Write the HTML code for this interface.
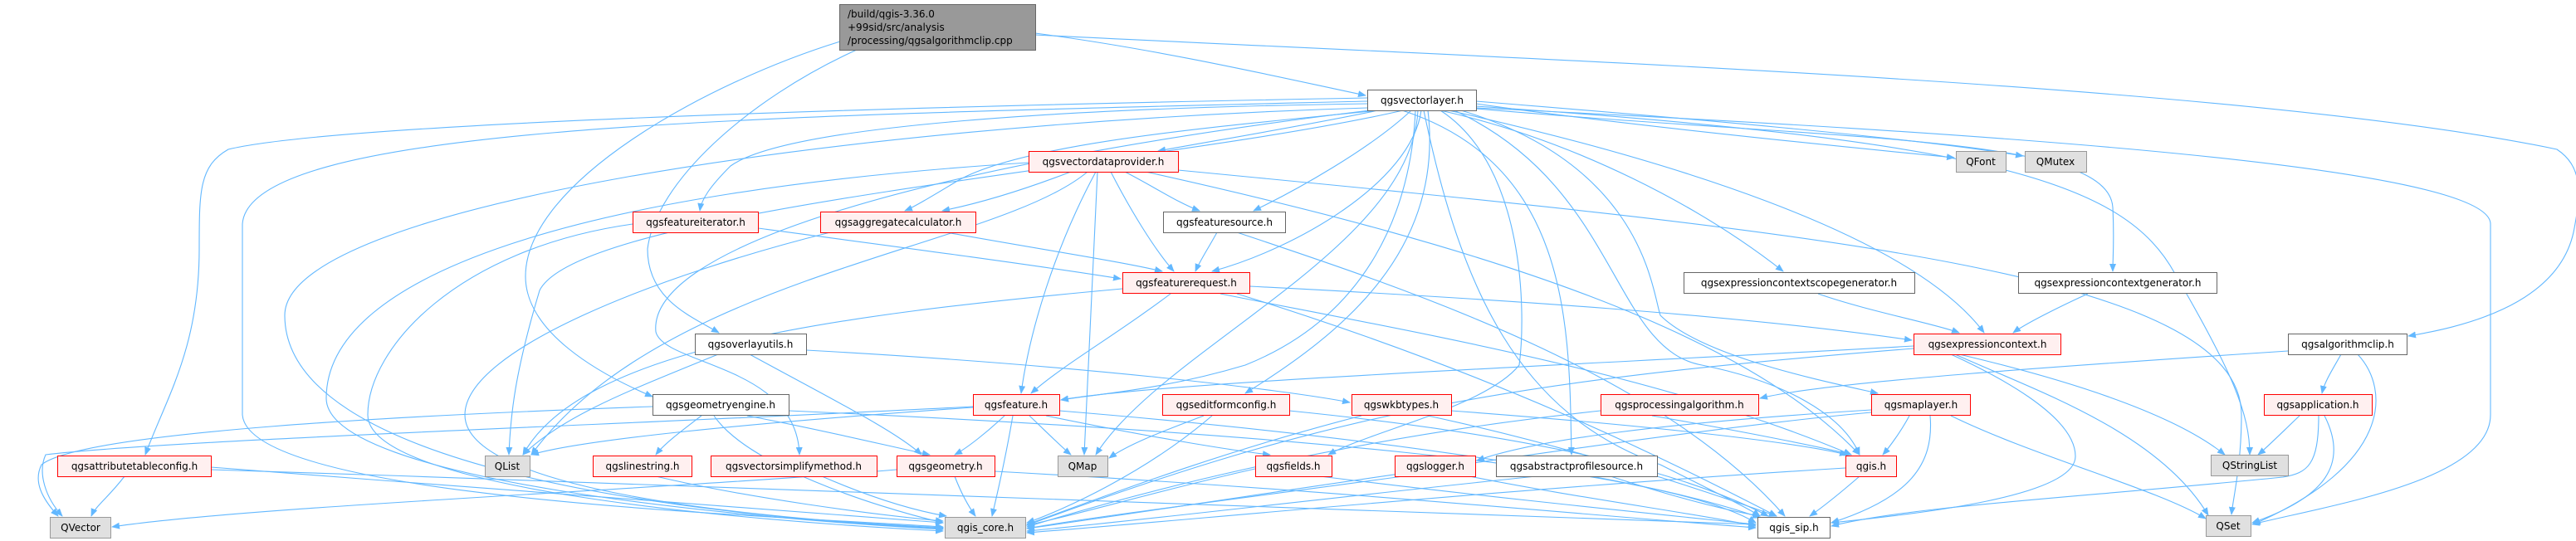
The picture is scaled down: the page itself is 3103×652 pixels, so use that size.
<!DOCTYPE html>
<html><head><meta charset="utf-8"><style>
html,body{margin:0;padding:0;background:#fff;}
svg{display:block;}
text{font-family:"DejaVu Sans","Liberation Sans",sans-serif;font-size:12px;fill:#000;}
.e{fill:none;stroke:#63b8ff;stroke-width:1.1;marker-end:url(#a);}
.r{fill:#fff0f0;stroke:#ff0000;stroke-width:1;}
.w{fill:#fff;stroke:#666;stroke-width:1;}
.g{fill:#e0e0e0;stroke:#999;stroke-width:1;}
</style></head><body>
<svg width="3103" height="652" viewBox="0 0 3103 652" xmlns="http://www.w3.org/2000/svg">
<defs><marker id="a" markerWidth="10" markerHeight="8" refX="9" refY="4" orient="auto" markerUnits="userSpaceOnUse"><path d="M0,0 L10,4 L0,8 z" fill="#63b8ff"/></marker></defs>
<g>
<path class="e" d="M1247,40 C1400,60 1550,95 1645,115"/>
<path class="e" d="M1247,42 C1800,70 2700,100 3080,180 C3110,200 3110,230 3100,280 C3080,370 2960,395 2901,405"/>
<path class="e" d="M1012,50 C850,100 633,220 633,333 C633,400 720,450 786,478"/>
<path class="e" d="M1032,60 C900,120 790,220 780,300 C780,360 830,380 866,401"/>
<path class="e" d="M1778,125 C1950,150 2200,175 2354,190"/>
<path class="e" d="M1778,122 C2000,140 2300,165 2437,188"/>
<path class="e" d="M1660,133 C1580,150 1460,170 1395,182"/>
<path class="e" d="M1647,125 C1300,130 950,150 880,200 C855,225 845,240 843,254"/>
<path class="e" d="M1660,133 C1500,150 1230,170 1150,220 C1120,238 1100,250 1090,254"/>
<path class="e" d="M1700,133 C1650,180 1560,230 1510,254"/>
<path class="e" d="M1712,133 C1700,220 1560,300 1460,327"/>
<path class="e" d="M1735,133 C1900,170 2050,250 2148,327"/>
<path class="e" d="M1745,128 C2200,170 2540,160 2545,250 C2547,290 2545,310 2545,327"/>
<path class="e" d="M1745,133 C2000,190 2300,280 2390,401"/>
<path class="e" d="M1705,133 C1700,250 1650,380 1500,440 C1400,470 1320,475 1278,482"/>
<path class="e" d="M1720,133 C1740,300 1620,400 1500,474"/>
<path class="e" d="M1760,133 C1980,200 1990,350 2000,380 C2050,430 2200,460 2262,474"/>
<path class="e" d="M1745,130 C1950,220 1940,420 2050,440 C2150,460 2220,500 2240,548"/>
<path class="e" d="M1689,133 C1895,200 1890,400 1893,548"/>
<path class="e" d="M1735,133 C1838,200 1838,380 1830,440 C1790,490 1650,520 1600,548"/>
<path class="e" d="M1708,133 C1700,300 1400,420 1320,548"/>
<path class="e" d="M1690,133 C1400,200 700,250 650,350 C620,450 615,500 613,548"/>
<path class="e" d="M1647,118 C1000,130 400,150 275,180 C240,200 240,230 240,300 C240,420 200,480 175,548"/>
<path class="e" d="M786,490 C500,500 100,520 50,560 C40,580 50,600 70,622"/>
<path class="e" d="M1172,490 C800,510 200,530 55,548 C45,570 55,600 75,622"/>
<path class="e" d="M1647,122 C900,140 300,150 292,270 L292,500 C300,600 900,620 1136,635"/>
<path class="e" d="M1647,130 C1000,150 343,250 343,380 C343,560 800,620 1136,637"/>
<path class="e" d="M1239,196 C700,230 393,330 393,480 C393,580 900,625 1136,638"/>
<path class="e" d="M762,270 C550,300 443,420 443,500 C443,590 900,628 1136,640"/>
<path class="e" d="M1715,133 C1760,350 1830,500 2000,560 C2080,600 2110,615 2120,622"/>
<path class="e" d="M1778,130 C2400,160 3000,200 3000,270 L3000,500 C3000,580 2800,610 2713,632"/>
<path class="e" d="M1778,128 C2400,170 2560,220 2620,330 C2690,450 2710,500 2710,548"/>
<path class="e" d="M1650,133 C1100,200 780,300 790,400 C800,440 960,440 963,548"/>
<path class="e" d="M1290,207 C1230,230 1180,245 1135,254"/>
<path class="e" d="M1355,207 C1390,225 1420,245 1445,254"/>
<path class="e" d="M1338,207 C1360,250 1390,300 1414,327"/>
<path class="e" d="M1320,207 C1270,300 1240,400 1230,474"/>
<path class="e" d="M1322,207 C1315,350 1310,450 1306,548"/>
<path class="e" d="M1419,205 C2200,280 2700,330 2700,500 C2700,560 2690,600 2688,620"/>
<path class="e" d="M1380,207 C1800,300 2100,400 2240,548"/>
<path class="e" d="M1310,207 C1200,300 800,330 640,548"/>
<path class="e" d="M913,275 C1100,300 1250,320 1350,336"/>
<path class="e" d="M1140,280 C1250,300 1350,315 1400,327"/>
<path class="e" d="M1000,280 C800,330 560,420 560,500 C560,590 900,625 1136,636"/>
<path class="e" d="M1466,280 C1455,300 1445,315 1440,327"/>
<path class="e" d="M1490,280 C1700,350 2000,450 2150,622"/>
<path class="e" d="M1410,354 C1350,400 1280,440 1242,474"/>
<path class="e" d="M1505,345 C1800,360 2100,380 2303,410"/>
<path class="e" d="M1352,348 C1000,380 700,420 630,548"/>
<path class="e" d="M1470,354 C1700,400 2000,450 2230,548"/>
<path class="e" d="M1490,354 C1800,450 2000,550 2140,622"/>
<path class="e" d="M2190,354 C2250,375 2330,390 2360,401"/>
<path class="e" d="M2515,354 C2480,370 2440,390 2425,401"/>
<path class="e" d="M971,422 C1300,440 1550,470 1626,485"/>
<path class="e" d="M865,427 C760,470 680,500 630,548"/>
<path class="e" d="M903,427 C1000,480 1080,520 1110,548"/>
<path class="e" d="M2305,417 C1900,440 1400,460 1278,482"/>
<path class="e" d="M2360,427 C2500,460 2620,500 2680,548"/>
<path class="e" d="M2355,427 C2450,470 2600,520 2660,621"/>
<path class="e" d="M2350,427 C2400,450 2500,500 2500,550 C2500,600 2300,620 2206,630"/>
<path class="e" d="M2305,420 C1800,460 1600,500 1237,633"/>
<path class="e" d="M2756,423 C2500,440 2200,460 2120,480"/>
<path class="e" d="M2820,427 C2810,445 2800,460 2797,474"/>
<path class="e" d="M2840,427 C2880,470 2880,560 2714,632"/>
<path class="e" d="M845,501 C820,520 800,535 790,548"/>
<path class="e" d="M900,501 C1000,520 1080,540 1120,548"/>
<path class="e" d="M860,501 C900,560 1050,610 1136,630"/>
<path class="e" d="M950,495 C1500,520 2000,560 2115,630"/>
<path class="e" d="M1172,491 C900,510 700,530 640,548"/>
<path class="e" d="M1210,501 C1190,520 1165,540 1150,548"/>
<path class="e" d="M1240,501 C1260,520 1280,540 1290,548"/>
<path class="e" d="M1260,501 C1400,530 1500,545 1530,548"/>
<path class="e" d="M1220,501 C1210,560 1200,600 1195,622"/>
<path class="e" d="M1276,495 C1700,530 2000,580 2120,624"/>
<path class="e" d="M1450,501 C1400,520 1360,535 1336,552"/>
<path class="e" d="M1460,501 C1380,570 1280,615 1237,630"/>
<path class="e" d="M1553,495 C1900,530 2050,580 2130,622"/>
<path class="e" d="M1748,495 C1950,510 2150,530 2225,548"/>
<path class="e" d="M1640,501 C1450,550 1300,610 1237,632"/>
<path class="e" d="M1720,501 C1900,540 2050,590 2140,622"/>
<path class="e" d="M1990,501 C2100,520 2200,540 2230,548"/>
<path class="e" d="M1928,495 C1600,530 1350,600 1237,635"/>
<path class="e" d="M2300,501 C2290,520 2275,540 2268,548"/>
<path class="e" d="M2254,494 C2000,510 1850,530 1779,555"/>
<path class="e" d="M2325,501 C2330,560 2300,600 2206,630"/>
<path class="e" d="M2350,501 C2450,550 2600,590 2657,625"/>
<path class="e" d="M2254,497 C2000,520 1500,600 1237,637"/>
<path class="e" d="M2770,501 C2750,520 2730,540 2720,548"/>
<path class="e" d="M2793,501 C2793,560 2780,570 2750,575 C2500,600 2300,610 2206,634"/>
<path class="e" d="M2800,501 C2830,560 2800,600 2713,630"/>
<path class="e" d="M150,574 C130,600 115,610 110,622"/>
<path class="e" d="M254,563 C600,590 1000,620 1136,630"/>
<path class="e" d="M254,566 C1000,590 1800,620 2115,632"/>
<path class="e" d="M790,574 C900,600 1050,620 1136,628"/>
<path class="e" d="M990,574 C1050,600 1100,615 1140,622"/>
<path class="e" d="M1150,574 C1160,600 1170,615 1175,622"/>
<path class="e" d="M1198,568 C1600,590 1900,620 2115,636"/>
<path class="e" d="M1080,566 C800,590 300,610 135,635"/>
<path class="e" d="M1512,565 C1400,590 1300,620 1237,633"/>
<path class="e" d="M1590,574 C1800,600 2000,620 2115,632"/>
<path class="e" d="M1690,574 C1500,600 1300,625 1237,637"/>
<path class="e" d="M1770,574 C1900,600 2050,620 2115,634"/>
<path class="e" d="M1940,574 C2020,600 2080,615 2120,622"/>
<path class="e" d="M1850,574 C1600,600 1350,630 1237,640"/>
<path class="e" d="M2240,574 C2210,600 2190,615 2180,622"/>
<path class="e" d="M2223,564 C1800,590 1400,630 1237,642"/>
</g>
<g>
<rect x="1011.5" y="5.5" width="236" height="55" fill="#999" stroke="#666"/>
<text x="1021" y="21">/build/qgis-3.36.0</text>
<text x="1021" y="37">+99sid/src/analysis</text>
<text x="1021" y="53">/processing/qgsalgorithmclip.cpp</text>

<rect class="w" x="1647.5" y="108.5" width="131" height="25"/><text x="1713" y="125" text-anchor="middle">qgsvectorlayer.h</text>
<rect class="g" x="2356.5" y="182.5" width="60" height="25"/><text x="2386" y="199" text-anchor="middle">QFont</text>
<rect class="g" x="2439.5" y="182.5" width="74" height="25"/><text x="2476" y="199" text-anchor="middle">QMutex</text>
<rect class="r" x="1239.5" y="182.5" width="180" height="25"/><text x="1329" y="199" text-anchor="middle">qgsvectordataprovider.h</text>
<rect class="r" x="762.5" y="255.5" width="151" height="25"/><text x="838" y="272" text-anchor="middle">qgsfeatureiterator.h</text>
<rect class="r" x="988.5" y="255.5" width="187" height="25"/><text x="1082" y="272" text-anchor="middle">qgsaggregatecalculator.h</text>
<rect class="w" x="1401.5" y="255.5" width="147" height="25"/><text x="1475" y="272" text-anchor="middle">qgsfeaturesource.h</text>
<rect class="r" x="1352.5" y="328.5" width="153" height="25"/><text x="1429" y="345" text-anchor="middle">qgsfeaturerequest.h</text>
<rect class="w" x="2028.5" y="328.5" width="278" height="25"/><text x="2167" y="345" text-anchor="middle">qgsexpressioncontextscopegenerator.h</text>
<rect class="w" x="2431.5" y="328.5" width="239" height="25"/><text x="2551" y="345" text-anchor="middle">qgsexpressioncontextgenerator.h</text>
<rect class="w" x="837.5" y="402.5" width="134" height="25"/><text x="904" y="419" text-anchor="middle">qgsoverlayutils.h</text>
<rect class="r" x="2305.5" y="402.5" width="177" height="25"/><text x="2394" y="419" text-anchor="middle">qgsexpressioncontext.h</text>
<rect class="w" x="2756.5" y="402.5" width="143" height="25"/><text x="2828" y="419" text-anchor="middle">qgsalgorithmclip.h</text>

<rect class="w" x="786.5" y="475.5" width="164" height="25"/><text x="868" y="492" text-anchor="middle">qgsgeometryengine.h</text>
<rect class="r" x="1172.5" y="475.5" width="104" height="25"/><text x="1224" y="492" text-anchor="middle">qgsfeature.h</text>
<rect class="r" x="1400.5" y="475.5" width="153" height="25"/><text x="1477" y="492" text-anchor="middle">qgseditformconfig.h</text>
<rect class="r" x="1628.5" y="475.5" width="120" height="25"/><text x="1688" y="492" text-anchor="middle">qgswkbtypes.h</text>
<rect class="r" x="1928.5" y="475.5" width="190" height="25"/><text x="2023" y="492" text-anchor="middle">qgsprocessingalgorithm.h</text>
<rect class="r" x="2254.5" y="475.5" width="119" height="25"/><text x="2314" y="492" text-anchor="middle">qgsmaplayer.h</text>
<rect class="r" x="2727.5" y="475.5" width="130" height="25"/><text x="2792" y="492" text-anchor="middle">qgsapplication.h</text>

<rect class="r" x="69.5" y="549.5" width="185" height="25"/><text x="162" y="566" text-anchor="middle">qgsattributetableconfig.h</text>
<rect class="g" x="584.5" y="549.5" width="54" height="25"/><text x="611" y="566" text-anchor="middle">QList</text>
<rect class="r" x="714.5" y="549.5" width="119" height="25"/><text x="774" y="566" text-anchor="middle">qgslinestring.h</text>
<rect class="r" x="856.5" y="549.5" width="200" height="25"/><text x="956" y="566" text-anchor="middle">qgsvectorsimplifymethod.h</text>
<rect class="r" x="1080.5" y="549.5" width="118" height="25"/><text x="1139" y="566" text-anchor="middle">qgsgeometry.h</text>
<rect class="g" x="1274.5" y="549.5" width="60" height="25"/><text x="1304" y="566" text-anchor="middle">QMap</text>
<rect class="r" x="1512.5" y="549.5" width="92" height="25"/><text x="1558" y="566" text-anchor="middle">qgsfields.h</text>
<rect class="r" x="1680.5" y="549.5" width="97" height="25"/><text x="1729" y="566" text-anchor="middle">qgslogger.h</text>
<rect class="w" x="1802.5" y="549.5" width="194" height="25"/><text x="1899" y="566" text-anchor="middle">qgsabstractprofilesource.h</text>
<rect class="r" x="2223.5" y="549.5" width="61" height="25"/><text x="2254" y="566" text-anchor="middle">qgis.h</text>
<rect class="g" x="2663.5" y="548.5" width="93" height="25"/><text x="2710" y="565" text-anchor="middle">QStringList</text>

<rect class="g" x="60.5" y="623.5" width="73" height="25"/><text x="97" y="640" text-anchor="middle">QVector</text>
<rect class="g" x="1138.5" y="623.5" width="97" height="25"/><text x="1187" y="640" text-anchor="middle">qgis_core.h</text>
<rect class="w" x="2117.5" y="623.5" width="87" height="25"/><text x="2161" y="640" text-anchor="middle">qgis_sip.h</text>
<rect class="g" x="2657.5" y="621.5" width="54" height="25"/><text x="2684" y="638" text-anchor="middle">QSet</text>
</g>
</svg>
</body></html>
